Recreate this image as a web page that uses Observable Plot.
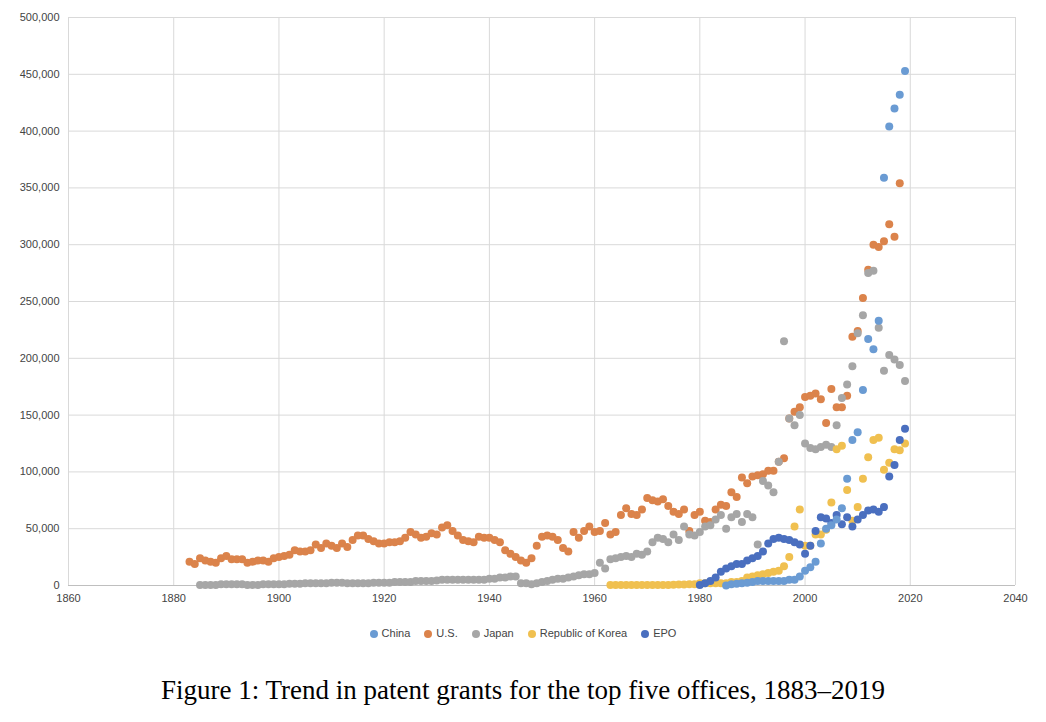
<!DOCTYPE html>
<html>
<head>
<meta charset="utf-8">
<script src="https://cdn.jsdelivr.net/npm/d3@7"></script>
<script src="https://cdn.jsdelivr.net/npm/@observablehq/plot@0.6"></script>
<style>
  body { margin: 0; background: #fff; font-family: "Liberation Sans", Arial, sans-serif; }
  #legend { display: flex; justify-content: center; gap: 14px; font-size: 11px; color: #444; margin-top: 16px; }
  #legend span i { display: inline-block; width: 8px; height: 8px; border-radius: 50%; margin-right: 4px; vertical-align: -1px; }
  #caption { text-align: center; font-family: "Liberation Serif", "Times New Roman", serif; font-size: 27px; margin-top: 36px; color: #000; }
</style>
</head>
<body>
<div id="chart"></div>
<div id="legend"></div>
<div id="caption">Figure 1: Trend in patent grants for the top five offices, 1883–2019</div>
<script>
// values in thousands of grants
const usStart = 1883;
const usValues = [21,19,24,22,21,20,24,26,23,23,23,20,21,22,22,21,24,25,26,27,31,30,30,31,36,33,37,35,33,37,34,40,44,44,41,39,37,37,38,38,39,42,47,45,42,43,46,45,51,53,48,44,40,39,38,43,42,42,40,38,31,28,25,22,20,24,35,43,44,43,40,33,30,47,42,48,52,47,
  48,55,45,47,62,68,63,62,67,77,75,74,76,70,65,63,67,48,62,65,57,56,67,71,70,82,78,95,90,96,97,98,101,101,109,112,147,153,157,166,167,169,164,143,173,157,157,167,219,224,253,278,300,298,303,318,307,354];

const japanStart = 1885;
const japanValues = [0.5,0.5,0.5,0.5,1,1,1,1,1,0.5,0.5,0.5,1,1,1,1,1,1.5,1.5,1.5,2,2,2,2,2,2.5,2.5,2.5,2,2,2,2,2,2.5,2.5,2.5,2.5,3,3,3,3,4,4,4,4,4.5,5,5,5,5,5,5,5,5,5,6,6,7,7,8,8,2,2,1,2,3,4,5,6,6,7,8,9,10,10,11,
  20,15,23,24,25,26,25,28,27,30,38,42,41,38,45,40,52,45,44,47,52,53,58,62,50,60,63,56,63,60,36,92,88,82,109,215,147,141,150,125,121,120,122,124,122,141,165,177,193,222,238,275,277,227,189,203,199,194,180];

const chinaStart = 1985;
const chinaValues = [0.1,1,1.5,2,2.5,3,4,4,4,4,4,4,5,5,8,13,16,21,37,50,53,58,68,94,128,135,172,217,208,233,359,404,420,432,453];

const koreaStart = 1963;
const koreaValues = [0.5,0.5,0.5,0.5,0.5,0.5,0.5,0.5,0.5,0.5,0.5,0.5,0.7,0.8,0.9,1,1,2,2,2,2,2,2,3,3,4,7,8,9,10,11,12,13,17,25,52,67,35,35,45,45,49,73,120,123,84,57,69,94,113,128,130,102,108,120,119,125];

const epoStart = 1980;
const epoValues = [0.5,2,4,7,12,15,17,19,19,22,24,26,30,37,41,42,41,40,38,36,28,35,48,60,59,55,62,54,60,52,58,62,66,67,65,69,96,106,128,138];

const offices = ["China", "U.S.", "Japan", "Republic of Korea", "EPO"];
const colors = ["#6a9bd3", "#db834b", "#a6a6a6", "#f0c050", "#4a6fbf"];

const series = [
  [chinaStart, chinaValues], [usStart, usValues], [japanStart, japanValues],
  [koreaStart, koreaValues], [epoStart, epoValues]
];
const data = series.flatMap(([start, vals], i) =>
  vals.map((v, j) => ({office: offices[i], year: start + j, grants: v * 1000})));

// draw in order so China ends up on top like the original
const drawOrder = ["U.S.", "Japan", "Republic of Korea", "EPO", "China"];
const sorted = drawOrder.flatMap(o => data.filter(d => d.office === o));

const plot = Plot.plot({
  width: 1046,
  height: 611,
  marginLeft: 68,
  marginRight: 31,
  marginTop: 17,
  marginBottom: 26,
  style: {fontFamily: "Liberation Sans, Arial, sans-serif", fontSize: "11px", color: "#444"},
  x: {domain: [1860, 2040], ticks: d3.range(1860, 2041, 20), tickFormat: d => String(d), tickSize: 0, label: null},
  y: {domain: [0, 500000], ticks: d3.range(0, 500001, 50000), tickFormat: d3.format(","), tickSize: 0, label: null},
  color: {domain: offices, range: colors},
  marks: [
    Plot.gridX(d3.range(1860, 2041, 20), {stroke: "#d9d9d9", strokeOpacity: 1}),
    Plot.gridY(d3.range(0, 500001, 50000), {stroke: "#d9d9d9", strokeOpacity: 1}),
    Plot.ruleY([0], {stroke: "#bfbfbf"}),
    Plot.dot(sorted, {x: "year", y: "grants", fill: "office", r: 4})
  ]
});
document.getElementById("chart").append(plot);

const legend = document.getElementById("legend");
offices.forEach((o, i) => {
  const s = document.createElement("span");
  s.innerHTML = `<i style="background:${colors[i]}"></i>${o}`;
  legend.append(s);
});
</script>
</body>
</html>
